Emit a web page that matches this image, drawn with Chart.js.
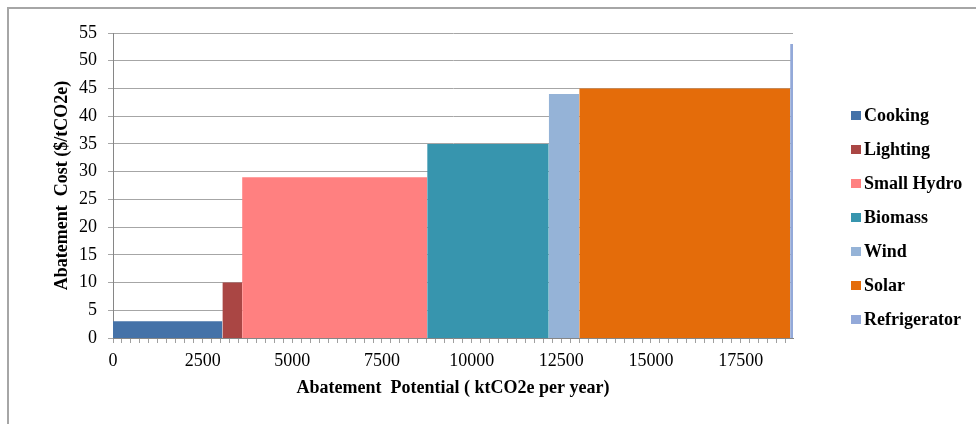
<!DOCTYPE html>
<html>
<head>
<meta charset="utf-8">
<script src="https://cdn.jsdelivr.net/npm/chart.js@4.4.1/dist/chart.umd.min.js"></script>
<style>
  html, body { margin: 0; padding: 0; background: #fff; overflow: hidden; }
  #wrap { position: relative; width: 976px; height: 424px; overflow: hidden; }
  #frame { position: absolute; left: 7px; top: 7px; width: 1200px; height: 1200px;
           border-left: 2px solid #a6a6a6; border-top: 2px solid #a6a6a6; box-sizing: border-box; }
  canvas { position: absolute; left: 0; top: 0; }
  #legend { position: absolute; left: 851px; top: 0; font: bold 18px "Liberation Serif", "Times New Roman", serif; color: #000; }
  #legend .item { position: absolute; left: 0; height: 22px; white-space: nowrap; display: flex; align-items: center; }
  #legend .sw { display: inline-block; width: 10px; height: 9px; margin-right: 3px; }
</style>
</head>
<body>
<div id="wrap">
  <div id="frame"></div>
  <canvas id="mac" width="976" height="424"></canvas>
  <div id="legend"></div>
</div>
<script>
// Marginal abatement cost curve: each option is a block whose width is its
// abatement potential and whose height is its cost.
const categories = ['Cooking', 'Lighting', 'Small Hydro', 'Biomass', 'Wind', 'Solar', 'Refrigerator'];
const potential = [3050, 550, 5160, 3390, 850, 5880, 80];   // ktCO2e per year
const cost = [3, 10, 29, 35, 44, 45, 53];                    // $/tCO2e
const colors = ['#4572a8', '#aa4644', '#ff8080', '#3795ae', '#95b3d7', '#e46c0a', '#93a9d9'];
const xTickLabels = [0, 2500, 5000, 7500, 10000, 12500, 15000, 17500];
const yTickLabels = [0, 5, 10, 15, 20, 25, 30, 35, 40, 45, 50, 55];
const xMinorStep = 250;

const serif = '"Liberation Serif", "Times New Roman", serif';

// Build one filled outline per option, laid end to end along the x axis.
const datasets = [];
let start = 0;
categories.forEach((name, i) => {
  const end = start + potential[i];
  datasets.push({
    label: name,
    data: [
      { x: start, y: 0 },
      { x: start, y: cost[i] },
      { x: end, y: cost[i] },
      { x: end, y: 0 }
    ],
    backgroundColor: colors[i],
    borderColor: 'rgba(0,0,0,0)',
    borderWidth: 0,
    fill: 'origin',
    pointRadius: 0,
    pointHoverRadius: 0,
    tension: 0
  });
  start = end;
});
const totalPotential = start;

// Minor tick marks every 250 kt along the x axis; only the 2500 steps get a label.
const xMinorTicks = [];
for (let v = 0; v <= totalPotential; v += xMinorStep) xMinorTicks.push({ value: v });

new Chart(document.getElementById('mac'), {
  type: 'line',
  data: { datasets },
  options: {
    responsive: false,
    animation: false,
    devicePixelRatio: 1,
    events: [],
    layout: { padding: { left: 52, right: 183, top: 33, bottom: 25 } },
    plugins: {
      legend: { display: false },
      tooltip: { enabled: false }
    },
    scales: {
      x: {
        type: 'linear',
        min: 0,
        max: totalPotential,
        afterBuildTicks: (axis) => { axis.ticks = xMinorTicks.map(t => ({ value: t.value })); },
        afterFit: (axis) => { axis.height = 61; },
        grid: { drawOnChartArea: false, drawTicks: true, tickLength: 5, color: '#a0a0a0' },
        border: { color: '#868686', width: 1 },
        ticks: {
          autoSkip: false,
          maxRotation: 0,
          padding: 7,
          color: '#000',
          font: { family: serif, size: 18 },
          callback: (v) => xTickLabels.includes(v) ? String(v) : ''
        },
        title: {
          display: true,
          text: 'Abatement  Potential ( ktCO2e per year)',
          color: '#000',
          font: { family: serif, size: 18, weight: 'bold' },
          padding: { top: 4, bottom: 0 }
        }
      },
      y: {
        min: 0,
        max: 55,
        afterFit: (axis) => { axis.width = 61; },
        grid: { color: '#a6a6a6', tickLength: 5 },
        border: { color: '#868686', width: 1 },
        ticks: {
          stepSize: 5,
          padding: 11,
          color: '#000',
          font: { family: serif, size: 18 },
          callback: (v) => yTickLabels.includes(v) ? String(v) : ''
        },
        title: {
          display: true,
          text: 'Abatement  Cost ($/tCO2e)',
          color: '#000',
          font: { family: serif, size: 18, weight: 'bold' },
          padding: { top: 0, bottom: 5 }
        }
      }
    }
  }
});

// Legend on the right, one swatch per option.
const legend = document.getElementById('legend');
categories.forEach((name, i) => {
  const item = document.createElement('div');
  item.className = 'item';
  item.style.top = (115 + i * 34 - 11) + 'px';
  const sw = document.createElement('span');
  sw.className = 'sw';
  sw.style.background = colors[i];
  item.appendChild(sw);
  item.appendChild(document.createTextNode(name));
  legend.appendChild(item);
});
</script>
</body>
</html>
